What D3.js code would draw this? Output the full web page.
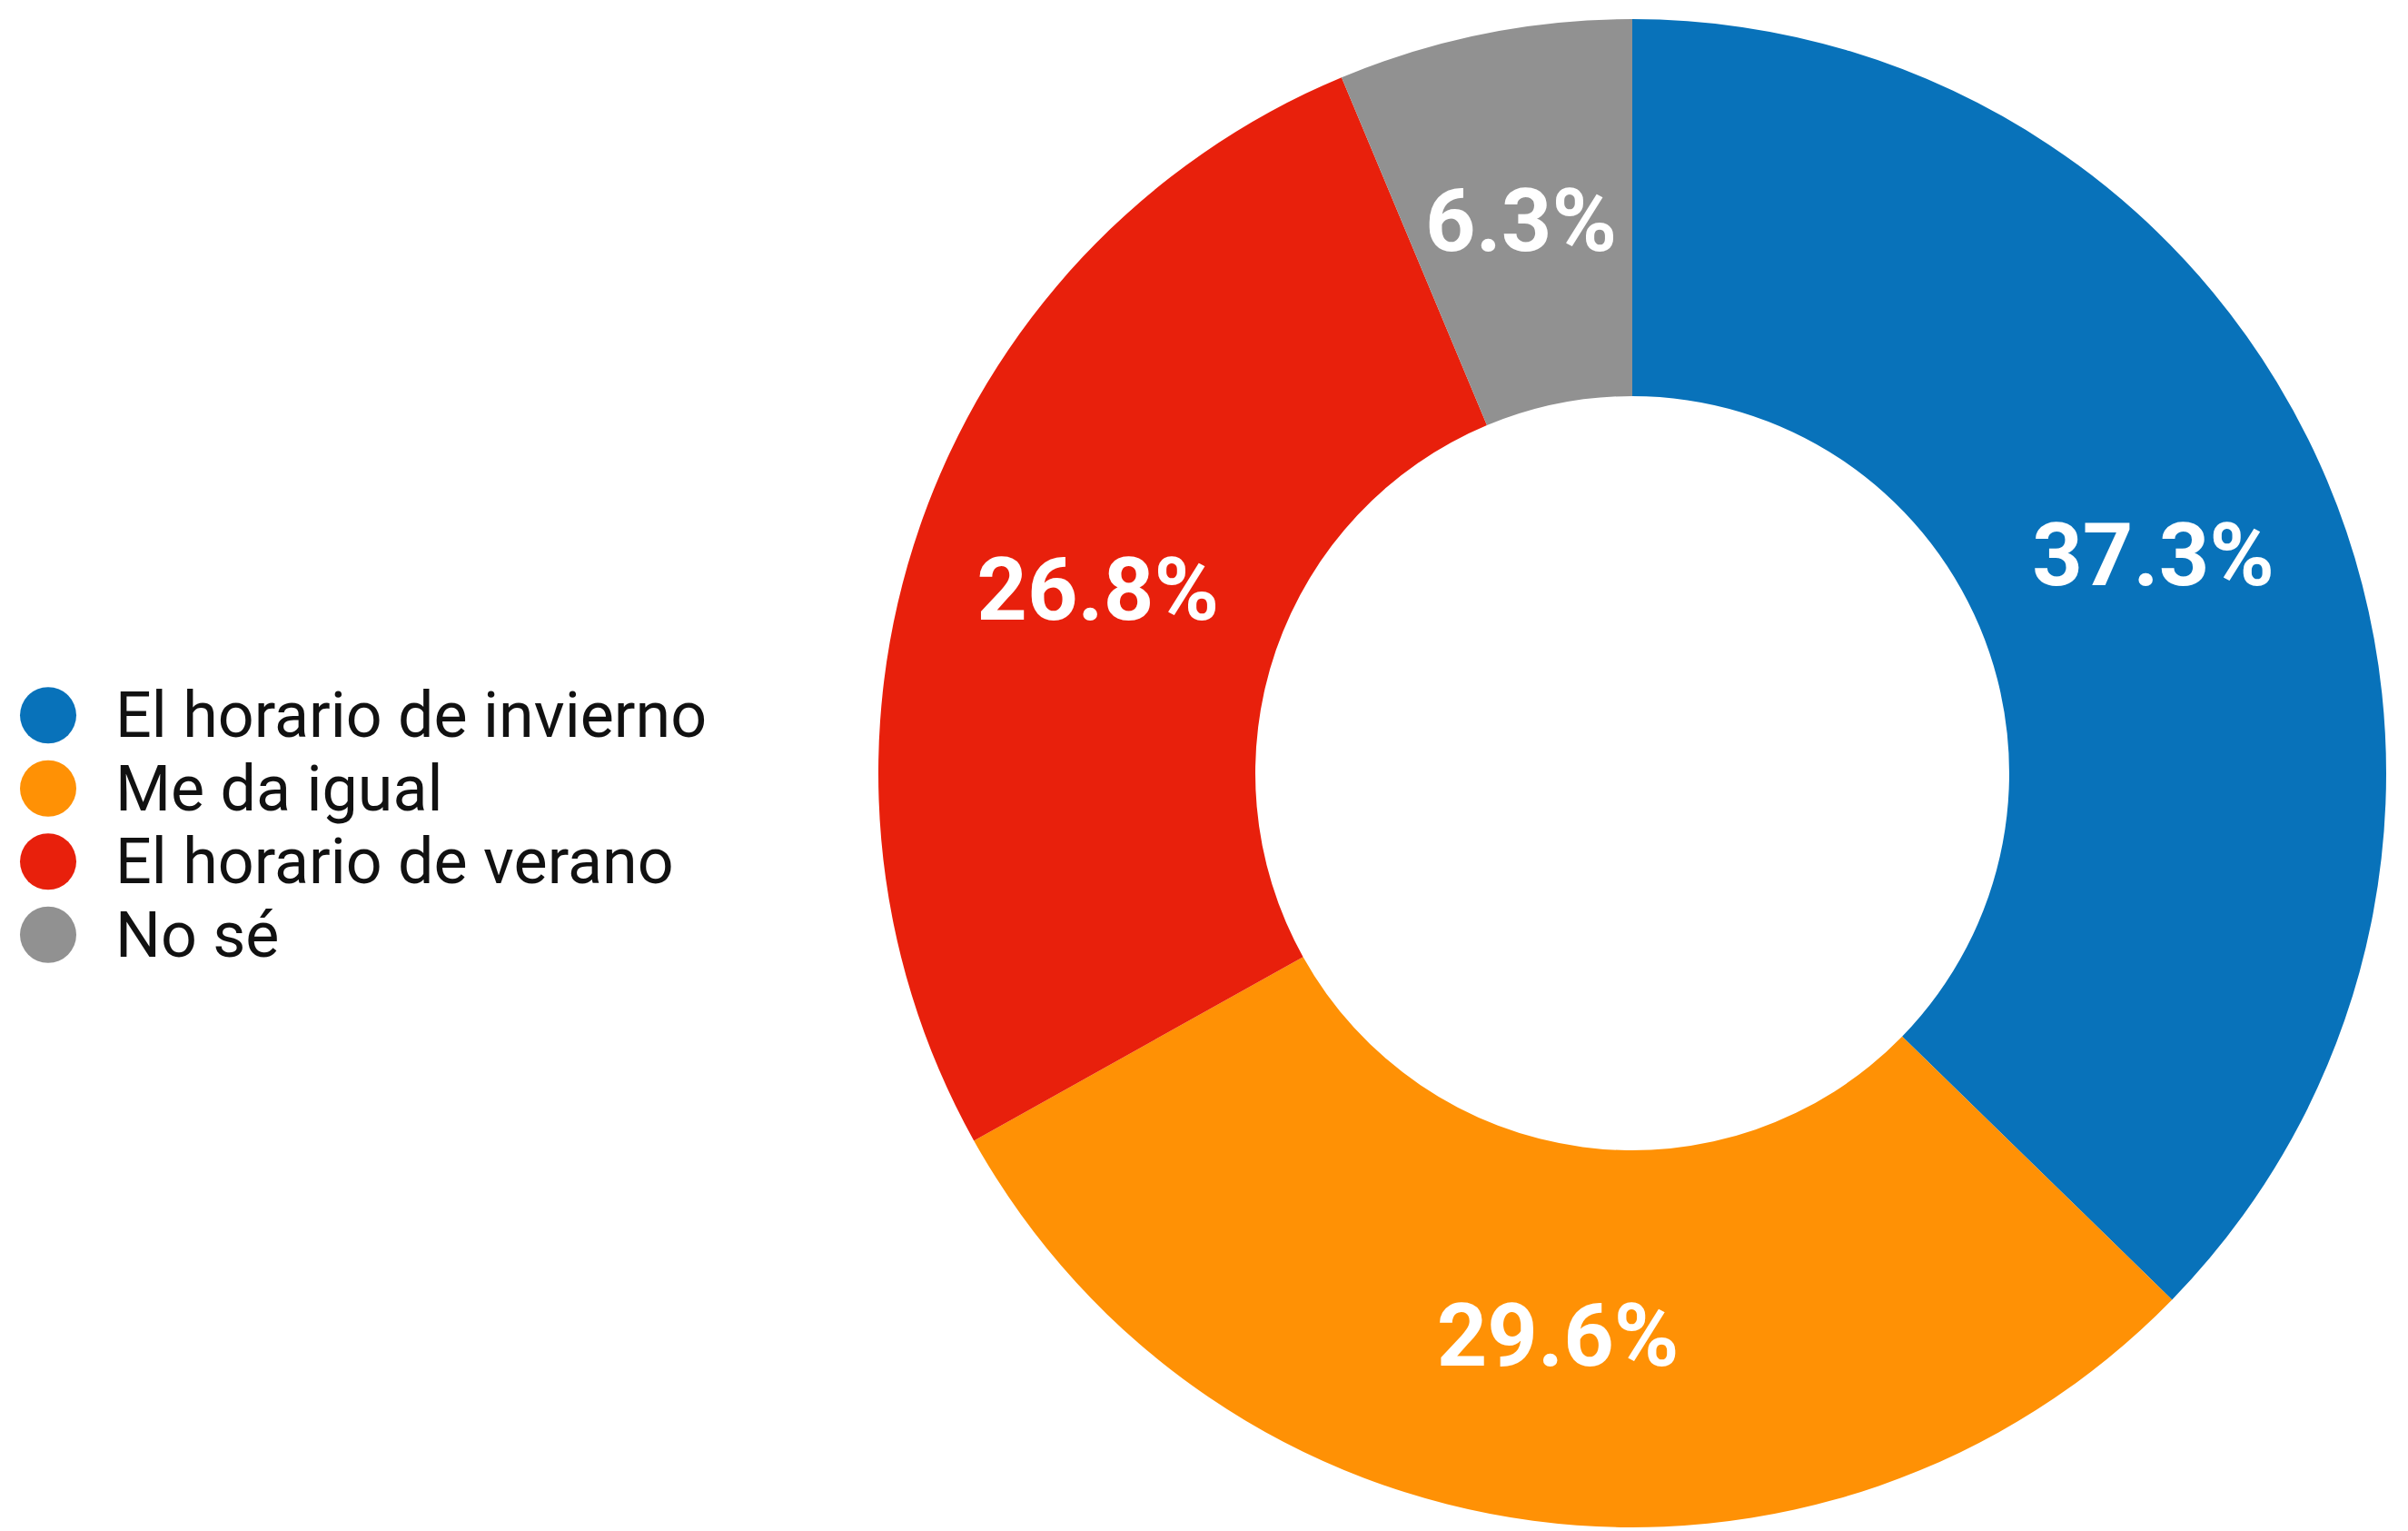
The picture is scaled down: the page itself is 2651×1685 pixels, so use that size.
<!DOCTYPE html>
<html>
<head>
<meta charset="utf-8">
<script src="https://cdn.jsdelivr.net/npm/d3@7"></script>
<style>
  html, body { margin: 0; padding: 0; background: #ffffff; }
  svg { display: block; }
</style>
</head>
<body>
<script>
const categories = ["El horario de invierno", "Me da igual", "El horario de verano", "No sé"];
const values = [37.3, 29.6, 26.8, 6.3];
const colors = ["#0872BA", "#FF9105", "#E8200C", "#919191"];

const W = 2651, H = 1685;
const cx = 1797, cy = 851, outerR = 830, innerR = 415;

const svg = d3.select("body").append("svg")
  .attr("width", W).attr("height", H)
  .style("font-family", "Roboto, 'Open Sans', sans-serif");

const data = categories.map((c, i) => ({ name: c, value: values[i], color: colors[i] }));

const pie = d3.pie().value(d => d.value).sort(null);
const arc = d3.arc().innerRadius(innerR).outerRadius(outerR);

const g = svg.append("g").attr("transform", `translate(${cx},${cy})`);
const arcs = pie(data);

g.selectAll("path.slice").data(arcs).enter().append("path")
  .attr("class", "slice")
  .attr("d", arc)
  .attr("fill", d => d.data.color);

g.selectAll("text.lbl").data(arcs).enter().append("text")
  .attr("class", "lbl")
  .attr("transform", d => `translate(${arc.centroid(d)})`)
  .attr("text-anchor", "middle")
  .attr("dy", "0.36em")
  .attr("fill", "#ffffff")
  .style("font-size", "97px")
  .style("font-weight", "700")
  .text(d => d.data.value.toFixed(1) + "%");

// Legend
const legendY = d3.scaleBand().domain(categories).range([747, 1069]);
const leg = svg.append("g");
const items = leg.selectAll("g.item").data(data).enter().append("g")
  .attr("class", "item")
  .attr("transform", d => `translate(0,${legendY(d.name) + legendY.bandwidth() / 2})`);
items.append("circle").attr("cx", 53).attr("cy", 0).attr("r", 31).attr("fill", d => d.color);
items.append("text").attr("x", 127).attr("y", 24)
  .attr("fill", "#111111")
  .style("font-size", "70px")
  .text(d => d.name);
</script>
</body>
</html>
